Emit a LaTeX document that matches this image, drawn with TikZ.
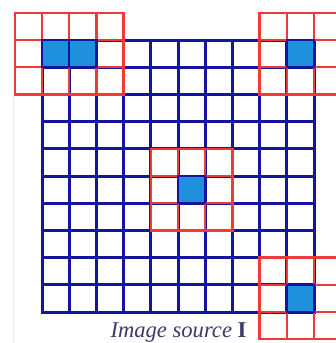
\documentclass[tikz,border=0pt]{standalone}
\usepackage{fontspec}
\setmainfont{Liberation Serif}
\definecolor{gridblue}{HTML}{1414A0}
\definecolor{winred}{HTML}{F03A3A}
\definecolor{cellfill}{HTML}{1E90DC}
\definecolor{textcol}{HTML}{3A3A6E}
\begin{document}
\begin{tikzpicture}[x=1pt,y=-1pt,
  bluegrid/.style={draw=gridblue,line width=3pt,line cap=rect},
  redgrid/.style={draw=winred,line width=2.4pt,line cap=rect},
  hitcell/.style={fill=cellfill,draw=gridblue,line width=2.4pt},
  caption/.style={text=textcol,font=\fontsize{22.6}{26}\selectfont,anchor=base,inner sep=0pt}]
\def\cs{27.2}
\def\ox{42}
\def\oy{40}
\useasboundingbox (0,0) rectangle (336,343);
\clip (0,0) rectangle (336,343);
\fill[white] (0,0) rectangle (336,343);
\draw[black!7,line width=0.8pt] (13,95) -- (13,343);
% blue 10x10 grid
\foreach \i in {0,...,10}{
  \draw[bluegrid] ({\ox+\i*\cs},\oy) -- ({\ox+\i*\cs},{\oy+10*\cs});
  \draw[bluegrid] (\ox,{\oy+\i*\cs}) -- ({\ox+10*\cs},{\oy+\i*\cs});
}
% red windows: #1 first col, #2 first row, #3 cols, #4 rows
\newcommand{\redwin}[4]{%
  \foreach \k in {0,...,#3}{
    \draw[redgrid] ({\ox+(#1+\k)*\cs},{\oy+#2*\cs}) -- ({\ox+(#1+\k)*\cs},{\oy+(#2+#4)*\cs});
  }
  \foreach \k in {0,...,#4}{
    \draw[redgrid] ({\ox+#1*\cs},{\oy+(#2+\k)*\cs}) -- ({\ox+(#1+#3)*\cs},{\oy+(#2+\k)*\cs});
  }
}
\redwin{-1}{-1}{4}{3}
\redwin{8}{-1}{3}{3}
\redwin{4}{4}{3}{3}
\redwin{8}{8}{3}{3}
% highlighted cells
\newcommand{\hit}[2]{\filldraw[hitcell] ({\ox+#1*\cs},{\oy+#2*\cs}) rectangle ({\ox+(#1+1)*\cs},{\oy+(#2+1)*\cs});}
\hit{0}{0}
\hit{1}{0}
\hit{9}{0}
\hit{5}{5}
\hit{9}{9}
\node[caption] (cap) at (178.5,337) {\textit{Image source} \textbf{I}};
\end{tikzpicture}
\end{document}
